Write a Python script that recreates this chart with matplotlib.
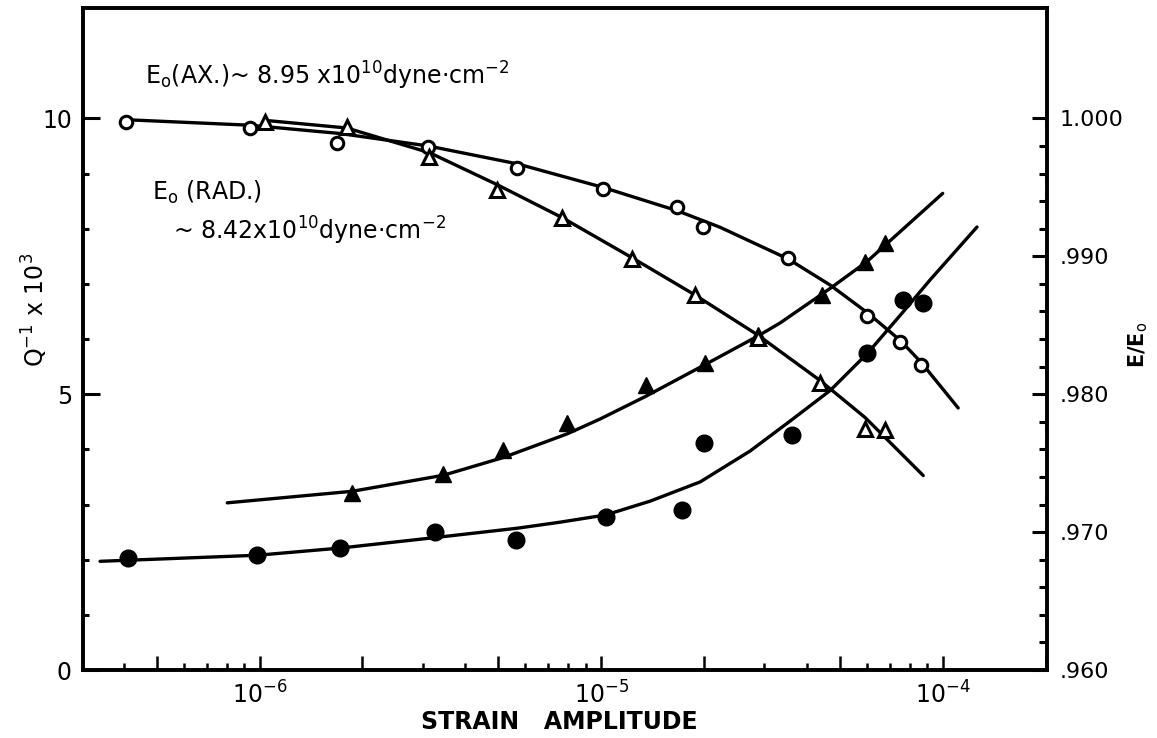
import matplotlib.pyplot as plt
from matplotlib.ticker import LogLocator, FuncFormatter, NullFormatter, FixedLocator
import numpy as np

# E/E0, axial (open circles) -- right axis
ax_strain = [4.06e-7, 9.38e-7, 1.69e-6, 3.11e-6, 5.68e-6, 1.01e-5, 1.67e-5, 1.99e-5, 3.53e-5, 6.02e-5, 7.51e-5, 8.65e-5]
ax_mod = [0.9997, 0.9993, 0.9982, 0.9979, 0.9964, 0.9949, 0.9936, 0.9921, 0.9899, 0.9857, 0.9838, 0.9821]
ax_fit_strain = [4.06e-7, 9.38e-7, 1.72e-6, 3.11e-6, 5.68e-6, 1.01e-5, 1.67e-5, 2.23e-5, 3.53e-5, 4.69e-5, 6.02e-5, 7.51e-5, 8.65e-5, 1.11e-4]
ax_fit_mod = [0.9999, 0.9995, 0.9989, 0.9980, 0.9967, 0.9950, 0.9933, 0.9921, 0.9898, 0.9879, 0.9859, 0.9839, 0.9823, 0.9790]

# E/E0, radial (open triangles) -- right axis
rad_strain = [1.04e-6, 1.80e-6, 3.13e-6, 4.95e-6, 7.69e-6, 1.23e-5, 1.88e-5, 2.87e-5, 4.37e-5, 5.93e-5, 6.79e-5]
rad_mod = [0.9997, 0.9994, 0.9972, 0.9948, 0.9928, 0.9898, 0.9872, 0.9841, 0.9808, 0.9775, 0.9774]
rad_fit_strain = [1.04e-6, 1.80e-6, 3.15e-6, 4.95e-6, 7.69e-6, 1.23e-5, 1.88e-5, 2.87e-5, 4.37e-5, 5.93e-5, 8.77e-5]
rad_fit_mod = [0.99985, 0.9993, 0.9975, 0.9952, 0.9928, 0.9899, 0.9872, 0.9843, 0.9810, 0.9783, 0.9741]

# Q^-1 x 10^3, radial (filled triangles) -- left axis
qrad_strain = [1.87e-6, 3.45e-6, 5.16e-6, 7.95e-6, 1.35e-5, 2.02e-5, 2.87e-5, 4.43e-5, 5.93e-5, 6.79e-5]
qrad = [3.21, 3.55, 3.99, 4.47, 5.16, 5.56, 6.07, 6.79, 7.39, 7.74]
qrad_fit_strain = [8.04e-7, 1.87e-6, 3.45e-6, 5.16e-6, 7.95e-6, 9.93e-6, 1.35e-5, 2.02e-5, 2.87e-5, 3.34e-5, 4.69e-5, 6.02e-5, 7.01e-5, 1.00e-4]
qrad_fit = [3.03, 3.24, 3.53, 3.85, 4.28, 4.55, 4.96, 5.54, 6.05, 6.29, 6.92, 7.41, 7.78, 8.64]

# Q^-1 x 10^3, axial (filled circles) -- left axis
qax_strain = [4.12e-7, 9.84e-7, 1.72e-6, 3.26e-6, 5.64e-6, 1.03e-5, 1.73e-5, 2.00e-5, 3.62e-5, 6.02e-5, 7.65e-5, 8.77e-5]
qax = [2.03, 2.08, 2.21, 2.50, 2.36, 2.77, 2.90, 4.11, 4.26, 5.74, 6.70, 6.65]
qax_fit_strain = [3.41e-7, 9.84e-7, 1.72e-6, 3.15e-6, 5.68e-6, 7.59e-6, 1.03e-5, 1.39e-5, 1.95e-5, 2.73e-5, 3.57e-5, 4.69e-5, 6.02e-5, 7.51e-5, 9.18e-5, 1.26e-4]
qax_fit = [1.97, 2.08, 2.21, 2.39, 2.57, 2.68, 2.81, 3.06, 3.41, 3.97, 4.51, 5.07, 5.74, 6.43, 7.07, 8.03]

left_ticks = [0, 5, 10]
left_labels = ['0', '5', '10']
left_minor = [1, 2, 3, 4, 6, 7, 8, 9]
right_ticks = [0.960, 0.970, 0.980, 0.990, 1.000]
right_labels = ['.960', '.970', '.980', '.990', '1.000']
right_minor = [0.962, 0.964, 0.966, 0.968, 0.972, 0.974, 0.976, 0.978,
               0.982, 0.984, 0.986, 0.988, 0.992, 0.994, 0.996, 0.998]

plt.rcParams['font.family'] = 'DejaVu Sans'
plt.rcParams['mathtext.fontset'] = 'dejavusans'

fig = plt.figure(figsize=(11.57, 7.38), dpi=100)
ax = fig.add_axes([83 / 1157, 1 - 670 / 738, 964 / 1157, 662 / 738])
ax2 = ax.twinx()

lw = 2.4
line_kw = dict(color='black', lw=lw, solid_joinstyle='round', solid_capstyle='round', zorder=2)
ax.plot(qrad_fit_strain, qrad_fit, **line_kw)
ax.plot(qax_fit_strain, qax_fit, **line_kw)
ax.plot(qrad_strain, qrad, ls='none', marker='^', ms=12, color='black', zorder=3)
ax.plot(qax_strain, qax, ls='none', marker='o', ms=12, color='black', zorder=3)

ax2.plot(ax_fit_strain, ax_fit_mod, **line_kw)
ax2.plot(rad_fit_strain, rad_fit_mod, **line_kw)
ax2.plot(ax_strain, ax_mod, ls='none', marker='o', ms=9, mfc='white', mec='black', mew=2.2, zorder=3)
ax2.plot(rad_strain, rad_mod, ls='none', marker='^', ms=10, mfc='white', mec='black', mew=2.2, zorder=3)

ax.set_xscale('log')
ax.set_xlim(3.04e-7, 2.02e-4)
ax.set_ylim(0, 12)
ax2.set_ylim(0.960, 1.008)

# x ticks: decades labelled, taller ticks at 1, 2, 5
ax.xaxis.set_major_locator(LogLocator(base=10, subs=(1.0, 2.0, 5.0)))
ax.xaxis.set_minor_locator(LogLocator(base=10, subs=(3.0, 4.0, 6.0, 7.0, 8.0, 9.0)))
def dec_fmt(v, pos):
    e = np.log10(v)
    if abs(e - round(e)) < 1e-6:
        return r'$10^{%d}$' % round(e)
    return ''
ax.xaxis.set_major_formatter(FuncFormatter(dec_fmt))
ax.xaxis.set_minor_formatter(NullFormatter())
ax.tick_params(axis='x', which='major', direction='in', length=10, width=1.8, labelsize=17, pad=8, top=False)
ax.tick_params(axis='x', which='minor', direction='in', length=5, width=1.8, top=False)

ax.yaxis.set_major_locator(FixedLocator(left_ticks))
ax.set_yticklabels(left_labels)
ax.yaxis.set_minor_locator(FixedLocator(left_minor))
ax.tick_params(axis='y', which='major', direction='in', length=12, width=2.2, labelsize=17, pad=8)
ax.tick_params(axis='y', which='minor', direction='in', length=4, width=2.2)

ax2.yaxis.set_major_locator(FixedLocator(right_ticks))
ax2.set_yticklabels(right_labels)
ax2.yaxis.set_minor_locator(FixedLocator(right_minor))
ax2.tick_params(axis='y', which='major', direction='in', length=11, width=2.2, labelsize=16, pad=9)
ax2.tick_params(axis='y', which='minor', direction='in', length=6, width=2.2)

for a in (ax, ax2):
    for s in a.spines.values():
        s.set_linewidth(2.6)

ax.text(0.064, 0.884, r'E$_\mathrm{o}$(AX.)~ 8.95 x10$^{10}$dyne$\cdot$cm$^{-2}$',
        transform=ax.transAxes, fontsize=17, va='baseline', ha='left')
ax.text(0.072, 0.710, r'E$_\mathrm{o}$ (RAD.)',
        transform=ax.transAxes, fontsize=17, va='baseline', ha='left')
ax.text(0.093, 0.650, r'~ 8.42x10$^{10}$dyne$\cdot$cm$^{-2}$',
        transform=ax.transAxes, fontsize=17, va='baseline', ha='left')

fig.text(559 / 1157, 1 - 722 / 738, 'STRAIN   AMPLITUDE', fontsize=17, fontweight='bold',
         ha='center', va='center')
fig.text(35 / 1157, 1 - 310 / 738, r'Q$^{-1}$ x 10$^{3}$', fontsize=17, rotation=90,
         ha='center', va='center')
fig.text(1138 / 1157, 1 - 345 / 738, r'E/E$_\mathrm{o}$', fontsize=15, fontweight='bold', rotation=90,
         ha='center', va='center')

fig.savefig('out.png', dpi=100)
